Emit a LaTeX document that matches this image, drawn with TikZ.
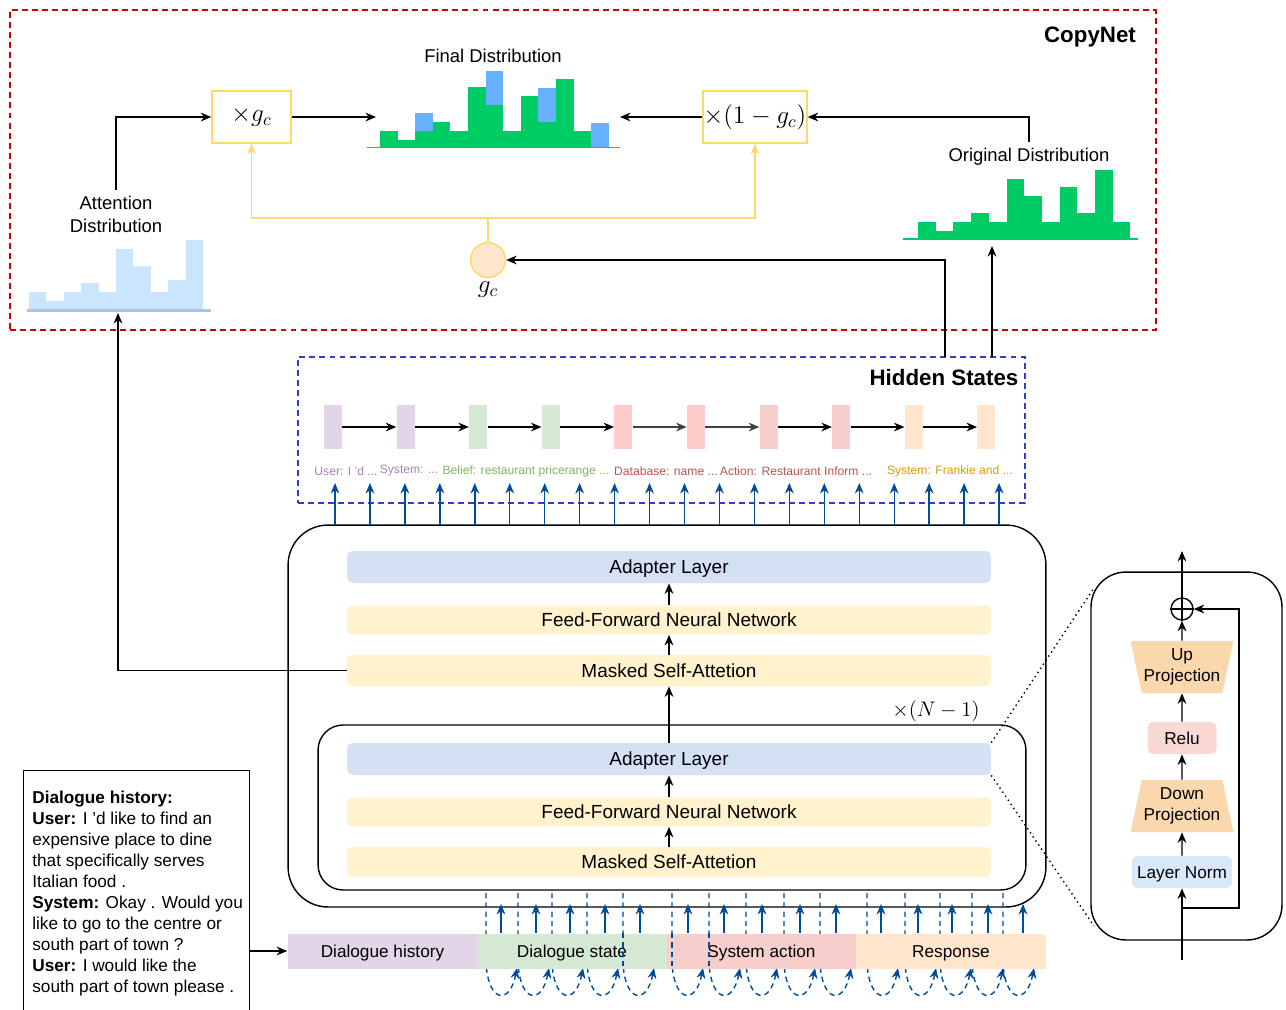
\documentclass[tikz,border=0pt]{standalone}
\usepackage[no-math]{fontspec}
\setmainfont{Liberation Sans}
\usepackage{amsmath}
\usetikzlibrary{arrows.meta}
\usetikzlibrary{positioning}
\usetikzlibrary{shapes.geometric}

\definecolor{copyred}{HTML}{CC0000}
\definecolor{hsblue}{HTML}{2E3FCC}
\definecolor{arrblue}{HTML}{004C99}
\definecolor{gyellow}{HTML}{FFD966}
\definecolor{gfill}{HTML}{FFE6CC}
\definecolor{dgreen}{HTML}{00CC66}
\definecolor{dblue}{HTML}{66B2FF}
\definecolor{attbar}{HTML}{CCE5FF}
\definecolor{attline}{HTML}{A9C4EB}
\definecolor{adfill}{HTML}{D4E1F5}
\definecolor{fffill}{HTML}{FFF2CC}
\definecolor{hpurple}{HTML}{E1D5E7}
\definecolor{hgreen}{HTML}{D5E8D4}
\definecolor{hpink}{HTML}{FFCCCC}
\definecolor{hred}{HTML}{F8CECC}
\definecolor{horange}{HTML}{FFE6CC}
\definecolor{tpurple}{HTML}{A680B8}
\definecolor{tgreen}{HTML}{82B366}
\definecolor{tred}{HTML}{B85450}
\definecolor{torange}{HTML}{D79B00}
\definecolor{lnfill}{HTML}{DAE8FC}
\definecolor{projfill}{HTML}{FAD7AC}
\definecolor{relufill}{HTML}{FAD9D5}

\begin{document}
\begin{tikzpicture}[x=0.02cm, y=-0.02cm,
		arr/.style={-{Stealth[length=6pt,width=5pt]}, line width=0.8pt},
		barr/.style={arr, draw=arrblue, fill=arrblue},
		yarr/.style={-{Stealth[length=6pt,width=5pt]}, draw=gyellow, line width=1pt},
		layer/.style={rounded corners=3pt, minimum width=12.88cm, inner sep=0, text height=7.7pt, text depth=0pt, font=\fontsize{10.8}{13}\selectfont},
		adapter/.style={layer, fill=adfill, minimum height=0.64cm},
		ffn/.style={layer, fill=fffill, minimum height=0.58cm},
		gatebox/.style={draw=gyellow, line width=0.8pt, minimum height=1.04cm, inner sep=0, font=\fontsize{14}{16}\selectfont},
		hstate/.style={minimum width=0.36cm, minimum height=0.88cm, inner sep=0},
		hlabel/.style={font=\fontsize{6.9}{8}\selectfont, inner sep=0},
		inseg/.style={minimum width=3.8cm, minimum height=0.7cm, inner sep=0, text height=7pt, text depth=0pt, font=\fontsize{9.8}{12}\selectfont},
		dlabel/.style={font=\fontsize{10.5}{13}\selectfont, align=center},
		proj/.style={trapezium, trapezium angle=74, trapezium stretches=true, fill=projfill, minimum width=2.06cm, minimum height=1.04cm, inner sep=0, align=center, font=\fontsize{9.8}{12}\selectfont},
		small/.style={rounded corners=3pt, inner sep=0, minimum height=0.64cm, text height=7pt, text depth=0pt, font=\fontsize{9.8}{12}\selectfont},
		bdash/.style={draw=arrblue, line width=0.8pt, dash pattern=on 3pt off 2.3pt}
	]
		\useasboundingbox (0,0) rectangle (1286,1009);
		
		% CopyNet frame
		\node[draw=copyred, line width=0.8pt, dash pattern=on 3.4pt off 2.3pt, minimum width=22.92cm, minimum height=6.4cm] (copy) at (583,170) {};
		\node[font=\fontsize{12.7}{15}\selectfont\bfseries] (copylab) at (1090,37) {CopyNet};
		
		% gates
		\node[gatebox, minimum width=1.58cm] (mulg) at (251.5,117) {$\times g_c$};
		\node[gatebox, minimum width=2.08cm] (mulng) at (755,117) {$\times(1-g_c)$};
		\node[circle, draw=gyellow, line width=0.8pt, fill=gfill, minimum size=0.7cm, inner sep=0] (gc) at (488,260) {};
		\node[font=\fontsize{14}{16}\selectfont] (gclab) at (488,290) {$g_c$};
		\coordinate (yj) at (488,218);
		\draw[yarr] (gc.north) -- (yj) -| (mulg.south);
		\draw[yarr] (yj) -| (mulng.south);
		
		% Final distribution
		\node[dlabel] (finlab) at (493,56) {Final Distribution};
		\foreach \h [count=\i from 0] in {131,140,131,122,131,87,105,131,96,122,79,131}
			\fill[dgreen] (380+17.6*\i,148) rectangle (397.6+17.6*\i,\h);
		\foreach \i/\a/\b in {2/113/131, 6/71/105, 9/88/122, 12/123/148}
			\fill[dblue] (380+17.6*\i,\b) rectangle (397.6+17.6*\i,\a);
		\draw[dgreen, line width=1pt] (367,147.5) -- (620,147.5);
		\coordinate (finw) at (376,117);
		\coordinate (fine) at (620,117);
		\draw[arr] (mulg) -- (finw);
		\draw[arr] (mulng) -- (fine);
		
		% Original distribution
		\node[dlabel] (orilab) at (1029,157) {Original Distribution};
		\foreach \h [count=\i from 0] in {222,231,222,213,222,179,196,222,187,213,170,222}
			\fill[dgreen] (918+17.7*\i,239) rectangle (935.7+17.7*\i,\h);
		\draw[dgreen, line width=1pt] (903,239) -- (1138,239);
		\draw[arr] (orilab.north) |- (mulng.east);
		
		% Attention distribution
		\node[dlabel] (attlab) at (116,214) {Attention\\Distribution};
		\foreach \h [count=\i from 0] in {292,301,292,283,292,249,266,292,280,240}
			\fill[attbar] (29+17.4*\i,310) rectangle (46.4+17.4*\i,\h);
		\draw[attline, line width=1.3pt] (27,310.5) -- (211,310.5);
		\draw[arr] (attlab.north) |- (mulg.west);
		
		% Hidden states
		\node[draw=hsblue, line width=0.8pt, dash pattern=on 3.4pt off 2.3pt, minimum width=14.54cm, minimum height=2.92cm] (hs) at (661.5,430) {};
		\node[font=\fontsize{12.7}{15}\selectfont\bfseries] (hslab) at (944,378) {Hidden States};
		\foreach \c [count=\i from 0] in {hpurple,hpurple,hgreen,hgreen,hpink,hpink,hred,hred,horange,horange}
			\node[hstate, fill=\c] (h\i) at (333+72.6*\i,427) {};
		\foreach \i/\j/\c in {0/1/black,1/2/black,2/3/black,3/4/black,4/5/darkgray,5/6/darkgray,6/7/black,7/8/black,8/9/black}
			\draw[arr, draw=\c] (h\i) -- (h\j);
		\node[hlabel, text=tpurple] (l1) at (346,471) {User: I 'd ...};
		\node[hlabel, text=tpurple] (l2) at (409,471) {System: ...};
		\node[hlabel, text=tgreen] (l3) at (526,471) {Belief: restaurant pricerange ...};
		\node[hlabel, text=tred] (l4) at (666,471) {Database: name ...};
		\node[hlabel, text=tred] (l5) at (796,471) {Action: Restaurant Inform ...};
		\node[hlabel, text=torange] (l6) at (950,471) {System: Frankie and ...};
		
		\coordinate (orib) at (992,246);
		\coordinate (hsa) at (992,357);
		\coordinate (hsb) at (945,357);
		\draw[arr] (hsa) -- (orib);
		\draw[arr] (hsb) |- (gc.east);
		
		% decoder
		\node[draw, line width=0.8pt, rounded corners=0.8cm, minimum width=15.16cm, minimum height=7.64cm] (dec) at (667,716) {};
		\node[draw, line width=0.8pt, rounded corners=0.5cm, minimum width=14.16cm, minimum height=3.3cm] (blk) at (672,807.5) {};
		\node[font=\fontsize{13}{15}\selectfont] (nlab) at (936,711) {$\times(N-1)$};
		
		\node[adapter] (ad2) at (669,567) {Adapter Layer};
		\node[ffn] (ff2) at (669,620) {Feed-Forward Neural Network};
		\node[ffn, minimum height=0.62cm] (ms2) at (669,670.5) {Masked Self-Attetion};
		\node[adapter] (ad1) at (669,759) {Adapter Layer};
		\node[ffn] (ff1) at (669,812) {Feed-Forward Neural Network};
		\node[ffn, minimum height=0.6cm] (ms1) at (669,862) {Masked Self-Attetion};
		\draw[arr] (ff2.north) -- (ad2.south);
		\draw[arr] (ms2.north) -- (ff2.south);
		\draw[arr] (ad1.north) -- (ms2.south);
		\draw[arr] (ff1.north) -- (ad1.south);
		\draw[arr] (ms1.north) -- (ff1.south);
		
		\coordinate (attb) at (118,313);
		\draw[arr] (ms2.west) -| (attb);
		
		% arrows into hidden states
		\foreach \i in {0,...,19} {
			\coordinate (dt\i) at (335+34.95*\i,525);
			\coordinate (ht\i) at (335+34.95*\i,483);
			\draw[barr] (dt\i) -- (ht\i);
		}
		
		% dashed feedback loops
		\foreach \x in {486,518,552,587,623,672,709,746,784,820,867,905,940,972,1003}
			\draw[bdash, -{Stealth[length=6pt,width=5pt]}] (\x,893) -- (\x,964) .. controls (\x+3,1004) and (\x+24,1004) .. (\x+31,968);
		
		% input segments
		\node[inseg, fill=hpurple] (inhist) at (382.5,951) {Dialogue history};
		\node[inseg, fill=hgreen] (instate) at (572,951) {Dialogue state};
		\node[inseg, fill=hred] (inact) at (761.5,951) {System action};
		\node[inseg, fill=horange] (inresp) at (951,951) {Response};
		\foreach \x in {623,672,709}
			\draw[bdash] (\x,933) -- (\x,969);
		
		\foreach \x in {501,536,570,605,640,688,724,762,800,836,881,918,952,988,1023}
			\draw[barr] (\x,933) -- (\x,904);
		
		% dialogue history box
		\node[draw, line width=0.8pt, anchor=north west, minimum width=4.52cm, minimum height=5.6cm] (hist) at (23,770) {};
		\node[anchor=north west, align=left, inner sep=0, font=\fontsize{9.8}{11.9}\selectfont] (histtxt) at (32,791) {\textbf{Dialogue history:}\\
			\textbf{User:} I 'd like to find an\\
			expensive place to dine\\
			that specifically serves\\
			Italian food .\\
			\textbf{System:} Okay . Would you\\
			like to go to the centre or\\
			south part of town ?\\
			\textbf{User:} I would like the\\
			south part of town please .};
		\draw[arr] (hist.east |- inhist.west) -- (inhist.west);
		
		% adapter detail
		\node[draw, line width=0.8pt, rounded corners=0.7cm, minimum width=3.82cm, minimum height=7.36cm] (adbox) at (1186.5,756) {};
		\coordinate (adtop) at (1094,588);
		\coordinate (adbot) at (1094,926);
		\draw[line width=0.8pt, dash pattern=on 0.8pt off 2pt] (ad1.north east) -- (adtop);
		\draw[line width=0.8pt, dash pattern=on 0.8pt off 2pt] (ad1.south east) -- (adbot);
		
		\coordinate (adin) at (1182,960);
		\coordinate (adout) at (1182,551);
		\coordinate (skip) at (1182,908);
		\coordinate (skipr) at (1239,908);
		\node[small, fill=lnfill, minimum width=2cm] (ln) at (1182,872) {Layer Norm};
		\node[proj] (down) at (1182,806) {Down\\Projection};
		\node[small, fill=relufill, minimum width=1.38cm] (relu) at (1182,738) {Relu};
		\node[proj, shape border rotate=180] (up) at (1182,667) {Up\\Projection};
		\node[circle, draw, line width=0.8pt, minimum size=0.44cm, inner sep=0] (plus) at (1182,609) {};
		\draw[line width=0.8pt] (plus.north) -- (plus.south) (plus.west) -- (plus.east);
		\draw[arr] (adin) -- (ln);
		\draw[arr] (ln) -- (down);
		\draw[arr] (down) -- (relu);
		\draw[arr] (relu) -- (up);
		\draw[arr] (up) -- (plus);
		\draw[arr] (plus) -- (adout);
		\draw[arr] (skip) -- (skipr) |- (plus.east);
	\end{tikzpicture}
\end{document}
